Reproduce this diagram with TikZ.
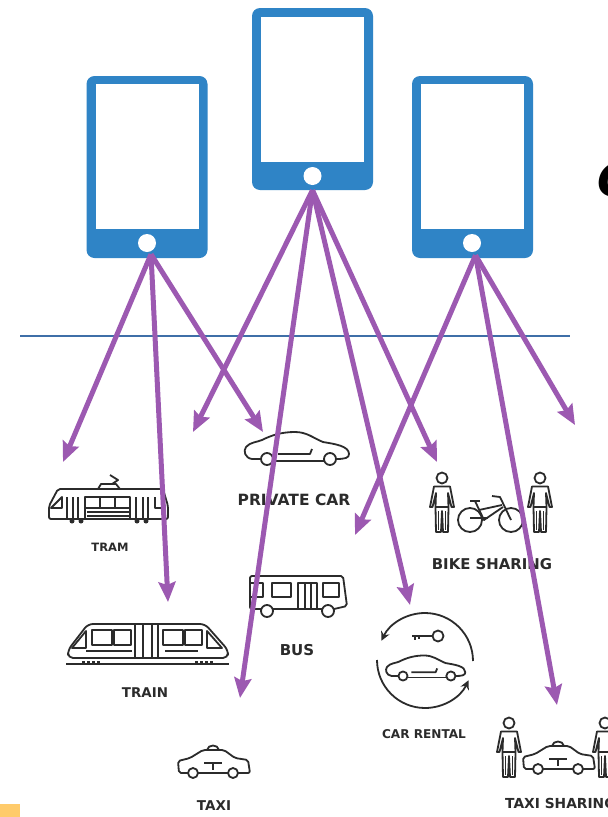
\documentclass[tikz,border=0pt]{standalone}
\usepackage{xcolor}
\usepackage{fontspec}
\setmainfont{DejaVu Sans}
\usetikzlibrary{arrows.meta}
\definecolor{phoneblue}{HTML}{2F84C6}
\definecolor{arrowpurple}{HTML}{9C59B1}
\definecolor{iconink}{HTML}{2B2B2B}
\definecolor{cornerorange}{HTML}{FFCB6B}
\definecolor{horizon}{HTML}{3F6FA8}
\tikzset{
    person/.pic={
        \draw (0,0) circle (5.5);
        \draw (-8,-8.5) -- (-12,-29) -- (-9.5,-29) -- (-6,-15) -- (-6.5,-29) -- (-6,-54) -- (-1,-54) -- (0,-33) -- (1,-54) -- (6,-54) -- (6.5,-29) -- (6,-15) -- (9.5,-29) -- (12,-29) -- (8,-8.5) -- cycle;
        \draw (-6.5,-29) -- (6.5,-29);
        \draw (-3.5,-33) -- (-3.5,-52);
        \draw (3.5,-33) -- (3.5,-52);
    },
    carbody/.pic={
        \draw (-6,0) -- (-15,0) .. controls (-22,1) and (-24,8) .. (-21,12) .. controls (-17,17) and (-9,17) .. (-5,19) .. controls (5,24) and (15,27) .. (28,27) .. controls (40,27) and (46,21) .. (56,17) .. controls (68,15) and (82,13) .. (82,5) .. controls (82,1) and (78,0) .. (69,0);
        \draw (6,-2) -- (57,-2);
        \draw (11,5) -- (43,5) -- (45,10);
        \draw (0,0) circle (6);
        \draw (63,0) circle (6);
    },
    taxibody/.pic={
        \draw [rounded corners=2] (-5,0) -- (-14,0) -- (-15,12) -- (-3,15) -- (10,23) -- (31,23) -- (42,15) -- (55,13) -- (57,0) -- (45,0);
        \draw (5,0) -- (35,0);
        \draw (14,23) .. controls (15,29) and (25,29) .. (26,23);
        \draw (11,10) -- (29,10);
        \draw (20,10) -- (20,3);
        \draw (0,0) circle (5);
        \draw (40,0) circle (5);
    }
}
\begin{document}
\begin{tikzpicture}[x=1pt,y=1pt]
        \tikzstyle{every node}+=[inner sep=0pt]
        \tikzstyle{phone}=[fill=phoneblue,rounded corners=8pt,minimum width=121pt,minimum height=182pt]
        \tikzstyle{screen}=[fill=white,minimum width=103pt]
        \tikzstyle{homekey}=[fill=white,circle,minimum size=18pt]
        \tikzstyle{icon}=[iconink,line width=1.8pt,line join=round]
        \tikzstyle{mode}=[text=iconink,font=\bfseries\fontsize{13}{13}\selectfont]
        \tikzstyle{link}=[arrowpurple,line width=5pt,-{Stealth[length=20pt,width=17pt,inset=3pt]}]
        \clip (0,0) rectangle (608,-817);
        \fill [white] (0,0) rectangle (608,-817);
        \fill [cornerorange] (0,-804) rectangle (20,-817);
        \node [phone] (phoneA) at (147,-167) {};
        \node [screen,minimum height=145pt] (screenA) at (147.5,-156.5) {};
        \node [homekey] (keyA) at (147,-243) {};
        \node [phone] (phoneB) at (312.5,-99) {};
        \node [screen,minimum height=145pt] (screenB) at (312.5,-89.5) {};
        \node [homekey] (keyB) at (312.5,-176) {};
        \node [phone] (phoneC) at (472.5,-167) {};
        \node [screen,minimum height=145pt] (screenC) at (472.5,-156.5) {};
        \node [homekey] (keyC) at (472,-243) {};
        \node [anchor=west,font=\bfseries\itshape\fontsize{46}{46}\selectfont] (cutoff) at (597,-180) {C};
        \draw [draw=horizon,line width=1.2pt] (20,-336) -- (570,-336);
        \draw [icon,rounded corners=2] (49,-519) -- (49,-506) -- (58,-489) -- (163,-489) -- (168,-506) -- (168,-519) -- cycle;
        \draw [icon] (98,-489) -- (101,-484) -- (116,-484) -- (120,-489);
        \draw [icon] (112,-484) -- (118,-480) -- (110,-475);
        \draw [icon] (51,-508) -- (62,-497) -- (62,-508) -- cycle;
        \draw [icon] (67,-497) -- (67,-518);
        \draw [icon] (73,-497) -- (73,-518);
        \draw [icon] (78,-497) -- (78,-518);
        \draw [icon] (85,-497) -- (85,-518);
        \draw [icon] (85,-497) rectangle (130,-508);
        \draw [icon] (100,-497) -- (100,-508);
        \draw [icon] (115,-497) -- (115,-508);
        \draw [icon] (130,-497) -- (130,-518);
        \draw [icon] (136,-497) -- (136,-518);
        \draw [icon] (143,-497) -- (143,-518);
        \draw [icon] (148,-497) -- (148,-518);
        \draw [icon] (155,-497) -- (155,-508) -- (166,-508);
        \draw [icon] (87,-512) -- (130,-512);
        \draw [icon] (87,-516) -- (130,-516);
        \fill [iconink] (72,-521) circle (2.5);
        \fill [iconink] (81,-521) circle (2.5);
        \fill [iconink] (137,-521) circle (2.5);
        \fill [iconink] (146,-521) circle (2.5);
        \node [mode,font=\bfseries\fontsize{11.5}{11.5}\selectfont] (tram) at (110,-547) {TRAM};
        \draw [icon,rounded corners=5] (68,-658) -- (68,-650) -- (88,-624) -- (205,-624) -- (228,-650) -- (228,-658) -- cycle;
        \draw [icon,line width=2.2pt] (66,-664) -- (229,-664);
        \draw [icon] (92,-630) rectangle (112,-645);
        \draw [icon] (114,-630) rectangle (131,-645);
        \draw [icon] (163,-630) rectangle (183,-645);
        \draw [icon] (185,-630) rectangle (202,-645);
        \draw [icon] (135,-624) -- (135,-658);
        \draw [icon] (143,-624) -- (143,-658);
        \draw [icon] (152,-624) -- (152,-658);
        \draw [icon] (158,-624) -- (158,-658);
        \draw [icon] (72,-648) -- (86,-631) -- (86,-648) -- cycle;
        \draw [icon] (207,-631) -- (222,-648) -- (207,-648) -- cycle;
        \draw [icon] (86,-651) -- (132,-651);
        \draw [icon] (165,-651) -- (198,-651);
        \draw [iconink,line width=3pt,dash pattern=on 3pt off 2pt] (82,-662) -- (100,-662);
        \draw [iconink,line width=3pt,dash pattern=on 3pt off 2pt] (195,-662) -- (213,-662);
        \node [mode,font=\bfseries\fontsize{13.4}{13.4}\selectfont] (train) at (145,-693) {TRAIN};
        \path [icon] (267,-459) pic {carbody};
        \node [mode,font=\bfseries\fontsize{15.5}{15.5}\selectfont] (privatecar) at (294,-500) {PRIVATE CAR};
        \draw [icon,rounded corners=2] (261,-609) -- (250,-609) -- (250,-576) -- (343,-576) -- (347,-606) -- (334,-609);
        \draw [icon] (273,-609) -- (322,-609);
        \draw [icon] (250,-583) -- (263,-583) -- (263,-597) -- (250,-597);
        \draw [icon] (272,-583) rectangle (291,-597);
        \draw [icon] (323,-583) rectangle (339,-597);
        \draw [icon] (298,-609) -- (298,-583) -- (317,-583) -- (317,-609);
        \draw [icon] (305,-583) -- (305,-609);
        \draw [icon] (311,-583) -- (311,-609);
        \draw [icon] (267,-611) circle (6);
        \draw [icon] (328,-611) circle (6);
        \node [mode,font=\bfseries\fontsize{15}{15}\selectfont] (bus) at (297,-650) {BUS};
        \path [icon] (193,-773) pic {taxibody};
        \node [mode,font=\bfseries\fontsize{13.5}{13.5}\selectfont] (taxi) at (214,-806) {TAXI};
        \path [icon] (442,-478) pic {person};
        \path [icon] (540,-478) pic {person};
        \draw [icon] (470,-520) circle (12);
        \draw [icon] (511,-520) circle (12);
        \draw [icon] (475,-501) -- (484,-520) -- (503,-507);
        \draw [icon] (479,-510) -- (502,-505);
        \draw [icon] (492,-496) -- (500,-497) -- (511,-520);
        \draw [icon,line width=2.6pt] (470,-518) -- (488,-518);
        \draw [icon] (470,-501) -- (480,-501);
        \node [mode,font=\bfseries\fontsize{14.9}{14.9}\selectfont] (bikesharing) at (492,-564) {BIKE SHARING};
        \draw [icon,-{Stealth[length=9pt,width=9pt]}] (473,-661) arc (0:155:48);
        \draw [icon,-{Stealth[length=9pt,width=9pt]}] (377,-660) arc (180:335:48);
        \draw [icon] (438,-636) circle (5.5);
        \draw [icon] (432.5,-636) -- (412,-636);
        \draw [icon] (415,-636) -- (415,-640);
        \draw [icon] (419,-636) -- (419,-639);
        \path [icon] (403,-676) pic [scale=0.76] {carbody};
        \node [mode,font=\bfseries\fontsize{12.1}{12.1}\selectfont] (carrental) at (424,-734) {CAR RENTAL};
        \path [icon] (509,-723) pic {person};
        \path [icon] (605,-723) pic {person};
        \path [icon] (538,-769) pic {taxibody};
        \node [mode,anchor=west,font=\bfseries\fontsize{13.8}{13.8}\selectfont] (taxisharing) at (505,-803) {TAXI SHARING};
        \coordinate (fromA) at ([xshift=4pt,yshift=4pt]phoneA.south);
        \coordinate (fromB) at (phoneB.south);
        \coordinate (fromC) at ([xshift=3pt,yshift=3pt]phoneC.south);
        \coordinate (tipTram) at (63,-462);
        \coordinate (tipTrain) at (168,-602);
        \coordinate (tipCar) at (263,-432);
        \coordinate (tipBus) at (193,-432);
        \coordinate (tipTaxi) at (240,-698);
        \coordinate (tipRental) at (410,-605);
        \coordinate (tipBike) at (437,-462);
        \coordinate (tipMid) at (355,-535);
        \coordinate (tipShare) at (557,-705);
        \coordinate (tipOut) at (575,-425);
        \draw [link] (fromA) -- (tipTram);
        \draw [link] (fromA) -- (tipTrain);
        \draw [link] (fromA) -- (tipCar);
        \draw [link] (fromB) -- (tipBus);
        \draw [link] (fromB) -- (tipTaxi);
        \draw [link] (fromB) -- (tipRental);
        \draw [link] (fromB) -- (tipBike);
        \draw [link] (fromC) -- (tipMid);
        \draw [link] (fromC) -- (tipShare);
        \draw [link] (fromC) -- (tipOut);
    \end{tikzpicture}
\end{document}
